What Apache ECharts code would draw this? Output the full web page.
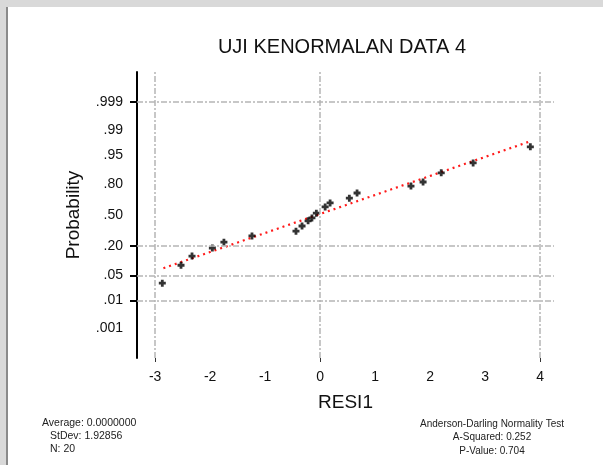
<!DOCTYPE html>
<html>
<head>
<meta charset="utf-8">
<script src="https://cdn.jsdelivr.net/npm/echarts@6/dist/echarts.min.js"></script>
<style>
  html, body { margin: 0; padding: 0; background: #fff; }
  #main { width: 603px; height: 465px; }
</style>
</head>
<body>
<div id="main"></div>
<script>
// residuals (x) and their normal scores (probability axis, probit units)
const residuals = [-2.87, -2.53, -2.33, -1.96, -1.75, -1.24, -0.44, -0.33, -0.22, -0.15,
  -0.07, 0.09, 0.18, 0.53, 0.67, 1.65, 1.87, 2.20, 2.78, 3.82]
const normalScores = [-1.86, -1.37, -1.12, -0.90, -0.74, -0.57, -0.44, -0.30, -0.16, -0.08,
  0.05, 0.22, 0.33, 0.46, 0.60, 0.79, 0.90, 1.15, 1.42, 1.86]
// fitted line end points
const fitX = [-2.85, 3.78]
const fitY = [-1.45, 1.99]
// axis ticks
const xTicks = [-3, -2, -1, 0, 1, 2, 3, 4]
const probLabels = ['.999', '.99', '.95', '.80', '.50', '.20', '.05', '.01', '.001']
const probTickZ = [3.090, 2.326, 1.645, 0.842, 0, -0.842, -1.645, -2.326, -3.090]
// reference (grid) lines
const refX = [-3, 0, 4]
const refZ = [3.090, -0.842, -1.645, -2.326]
// footer text
const statsLeft = ['Average: 0.0000000', 'StDev: 1.92856', 'N: 20']
const statsRight = ['Anderson-Darling Normality Test', 'A-Squared: 0.252', 'P-Value: 0.704']

var myChart = echarts.init(document.getElementById('main'))
const font = 'Liberation Sans, Arial, sans-serif'

var option = {
  backgroundColor: '#fff',
  animation: false,
  textStyle: { fontFamily: font },
  grid: { left: 137, right: 49, top: 72, bottom: 107 },
  xAxis: {
    type: 'value',
    min: -3.33,
    max: 4.25,
    name: 'RESI1',
    nameLocation: 'middle',
    nameGap: 35,
    nameTextStyle: { fontSize: 19, color: '#111', fontFamily: font },
    axisLine: { show: false, onZero: false },
    axisTick: { show: true, customValues: refX, length: 4, lineStyle: { color: '#333', width: 1 } },
    axisLabel: { customValues: xTicks, fontSize: 14, color: '#111', margin: 12 },
    splitLine: { show: false }
  },
  yAxis: {
    type: 'value',
    min: -3.9,
    max: 3.9,
    name: 'Probability',
    nameLocation: 'middle',
    nameGap: 54,
    nameRotate: 90,
    nameTextStyle: { fontSize: 19, color: '#111', fontFamily: font },
    axisLine: { show: true, onZero: false, lineStyle: { color: '#000', width: 2 } },
    axisTick: { show: true, customValues: refZ, length: 7, lineStyle: { color: '#000', width: 2 } },
    axisLabel: {
      customValues: probTickZ,
      fontSize: 14,
      color: '#111',
      margin: 14,
      formatter: function (v) {
        let best = 0
        for (let i = 0; i < probTickZ.length; i++) {
          if (Math.abs(probTickZ[i] - v) < Math.abs(probTickZ[best] - v)) best = i
        }
        return probLabels[best]
      }
    },
    splitLine: { show: false }
  },
  graphic: [
    { type: 'rect', shape: { x: 0, y: 0, width: 603, height: 7 }, style: { fill: '#d9d9d9' }, silent: true },
    { type: 'rect', shape: { x: 0, y: 7, width: 6, height: 458 }, style: { fill: '#d9d9d9' }, silent: true },
    { type: 'rect', shape: { x: 6, y: 7, width: 2, height: 458 }, style: { fill: '#8a8a8a' }, silent: true },
    {
      type: 'text', x: 342, y: 37,
      style: { text: 'UJI KENORMALAN DATA 4', fontSize: 20, fill: '#111', fontFamily: font, align: 'center' }
    },
    {
      type: 'text', x: 42, y: 418,
      style: { text: statsLeft[0], fontSize: 10.5, fill: '#222', fontFamily: font }
    },
    {
      type: 'text', x: 50, y: 431,
      style: { text: statsLeft[1], fontSize: 10.5, fill: '#222', fontFamily: font }
    },
    {
      type: 'text', x: 50, y: 444,
      style: { text: statsLeft[2], fontSize: 10.5, fill: '#222', fontFamily: font }
    },
    {
      type: 'text', x: 492, y: 419,
      style: { text: statsRight[0], fontSize: 10, fill: '#222', fontFamily: font, align: 'center' }
    },
    {
      type: 'text', x: 492, y: 432,
      style: { text: statsRight[1], fontSize: 10, fill: '#222', fontFamily: font, align: 'center' }
    },
    {
      type: 'text', x: 492, y: 446,
      style: { text: statsRight[2], fontSize: 10, fill: '#222', fontFamily: font, align: 'center' }
    }
  ],
  series: [
    {
      // reference lines
      type: 'line',
      data: [],
      z: 1,
      silent: true,
      markLine: {
        silent: true,
        symbol: 'none',
        label: { show: false },
        animation: false,
        lineStyle: { color: '#b5b5b5', width: 1.5, type: [6, 2, 2, 2] },
        data: refX.map(v => ({ xAxis: v })).concat(refZ.map(v => ({ yAxis: v })))
      }
    },
    {
      name: 'Fit',
      type: 'line',
      z: 2,
      symbol: 'none',
      lineStyle: { color: '#ff1a1a', width: 2.2, type: [2, 4] },
      data: fitX.map((x, i) => [x, fitY[i]])
    },
    {
      name: 'RESI1',
      type: 'scatter',
      z: 3,
      symbol: 'path://M2.4,0H5.6V2.4H8V5.6H5.6V8H2.4V5.6H0V2.4H2.4Z',
      symbolSize: 7,
      itemStyle: { color: '#000' },
      data: residuals.map((x, i) => [x, normalScores[i]])
    }
  ]
}

myChart.setOption(option)
</script>
</body>
</html>
